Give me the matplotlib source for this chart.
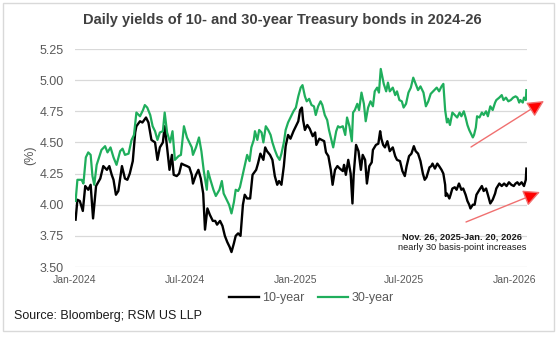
import matplotlib
matplotlib.use('Agg')
import matplotlib.pyplot as plt
import matplotlib.dates as mdates
from matplotlib.patches import Rectangle
import pandas as pd

plt.rcParams['font.family'] = ['Liberation Sans', 'DejaVu Sans']

# days since 2024-01-01
ten_days = [1, 4, 8, 13, 17, 22, 26, 30, 35, 42,
            47, 53, 57, 61, 64, 68, 72, 78, 83, 87,
            91, 96, 100, 102, 108, 112, 118, 122, 127, 133,
            137, 141, 146, 149, 153, 157, 161, 164, 169, 173,
            177, 181, 186, 190, 194, 196, 201, 205, 209, 213,
            216, 220, 224, 229, 233, 236, 241, 245, 249, 253,
            257, 260, 264, 267, 271, 275, 279, 282, 286, 291,
            295, 301, 304, 308, 313, 316, 319, 324, 328, 332,
            336, 339, 343, 347, 350, 354, 358, 363, 367, 371,
            374, 377, 379, 382, 386, 390, 395, 399, 401, 406,
            410, 414, 417, 421, 425, 428, 432, 436, 440, 445,
            447, 450, 454, 458, 461, 463, 467, 471, 475, 478,
            482, 485, 489, 493, 495, 500, 504, 507, 509, 512,
            515, 519, 523, 528, 532, 535, 540, 544, 548, 551,
            555, 559, 563, 566, 570, 574, 578, 581, 584, 589,
            592, 594, 598, 602, 605, 609, 612, 615, 616, 618,
            622, 624, 627, 631, 634, 638, 642, 645, 649, 652,
            655, 657, 661, 664, 667, 672, 676, 679, 683, 686,
            690, 694, 698, 700, 705, 709, 713, 717, 721, 725,
            729, 732, 735, 738, 742, 746, 749, 750]
ten_year = [3.88, 4.04, 4.03, 3.95, 4.15, 4.12, 4.16, 3.89, 4.15, 4.21,
            4.31, 4.28, 4.31, 4.24, 4.20, 4.08, 4.11, 4.31, 4.21, 4.20,
            4.25, 4.35, 4.58, 4.63, 4.67, 4.66, 4.70, 4.66, 4.52, 4.50,
            4.36, 4.46, 4.50, 4.63, 4.46, 4.28, 4.40, 4.24, 4.23, 4.25,
            4.33, 4.32, 4.31, 4.30, 4.24, 4.17, 4.24, 4.28, 4.21, 4.09,
            3.80, 3.97, 3.92, 3.87, 3.87, 3.84, 3.87, 3.83, 3.75, 3.70,
            3.66, 3.62, 3.69, 3.75, 3.77, 3.75, 4.00, 4.08, 4.05, 4.05,
            4.24, 4.28, 4.33, 4.41, 4.36, 4.46, 4.43, 4.40, 4.36, 4.23,
            4.16, 4.19, 4.16, 4.31, 4.47, 4.56, 4.53, 4.59, 4.63, 4.67,
            4.76, 4.78, 4.68, 4.60, 4.64, 4.61, 4.55, 4.58, 4.48, 4.53,
            4.52, 4.51, 4.42, 4.39, 4.28, 4.16, 4.28, 4.31, 4.29, 4.27,
            4.32, 4.24, 4.36, 4.25, 4.01, 4.24, 4.48, 4.43, 4.28, 4.40,
            4.36, 4.17, 4.31, 4.34, 4.44, 4.48, 4.49, 4.59, 4.53, 4.48,
            4.46, 4.51, 4.43, 4.46, 4.39, 4.36, 4.35, 4.27, 4.23, 4.31,
            4.39, 4.41, 4.47, 4.43, 4.41, 4.35, 4.25, 4.20, 4.22, 4.30,
            4.31, 4.33, 4.29, 4.33, 4.31, 4.28, 4.25, 4.16, 4.07, 4.09,
            4.05, 4.08, 4.13, 4.14, 4.12, 4.17, 4.12, 4.13, 4.08, 4.03,
            4.00, 3.97, 4.00, 4.00, 4.08, 4.12, 4.15, 4.11, 4.13, 4.08,
            4.01, 4.04, 4.09, 4.13, 4.17, 4.15, 4.17, 4.15, 4.18, 4.16,
            4.15, 4.17, 4.18, 4.16, 4.18, 4.15, 4.20, 4.29]

thirty_days = [1, 4, 11, 14, 18, 22, 26, 29, 32, 36,
               44, 50, 54, 59, 64, 69, 75, 79, 83, 89,
               94, 98, 102, 108, 113, 116, 120, 125, 129, 133,
               137, 141, 146, 149, 153, 158, 162, 166, 172, 176,
               181, 186, 190, 194, 196, 201, 206, 210, 214, 219,
               221, 225, 230, 234, 240, 244, 247, 252, 256, 260,
               264, 267, 271, 274, 279, 282, 286, 290, 293, 297,
               299, 303, 306, 310, 313, 317, 321, 325, 328, 332,
               336, 340, 343, 347, 350, 354, 358, 363, 367, 371,
               375, 378, 382, 385, 389, 393, 397, 400, 404, 408,
               411, 415, 419, 422, 426, 429, 434, 437, 440, 445,
               449, 452, 456, 460, 462, 465, 469, 472, 476, 480,
               483, 487, 491, 495, 498, 502, 505, 508, 511, 513,
               517, 520, 523, 528, 532, 535, 539, 543, 546, 550,
               554, 558, 562, 566, 570, 574, 579, 583, 587, 591,
               595, 601, 605, 609, 612, 615, 618, 620, 623, 627,
               631, 635, 639, 642, 646, 649, 652, 655, 657, 661,
               663, 666, 668, 672, 676, 679, 683, 686, 690, 694,
               698, 700, 705, 709, 712, 716, 720, 724, 728, 732,
               735, 738, 740, 744, 746, 749, 750]
thirty_year = [4.03, 4.20, 4.20, 4.17, 4.38, 4.42, 4.40, 4.23, 4.16, 4.32,
               4.44, 4.47, 4.42, 4.46, 4.38, 4.32, 4.43, 4.45, 4.40, 4.41,
               4.52, 4.56, 4.74, 4.71, 4.76, 4.80, 4.78, 4.72, 4.63, 4.59,
               4.52, 4.58, 4.59, 4.74, 4.58, 4.50, 4.59, 4.36, 4.39, 4.40,
               4.63, 4.54, 4.50, 4.46, 4.40, 4.46, 4.54, 4.43, 4.27, 4.12,
               4.27, 4.20, 4.12, 4.07, 4.12, 4.19, 4.09, 4.04, 4.00, 3.93,
               4.02, 4.12, 4.11, 4.14, 4.25, 4.32, 4.40, 4.35, 4.46, 4.52,
               4.59, 4.52, 4.60, 4.58, 4.50, 4.63, 4.60, 4.56, 4.50, 4.44,
               4.39, 4.36, 4.41, 4.50, 4.60, 4.66, 4.70, 4.75, 4.78, 4.87,
               4.94, 4.96, 4.87, 4.83, 4.85, 4.80, 4.79, 4.72, 4.79, 4.83,
               4.80, 4.72, 4.68, 4.60, 4.52, 4.46, 4.59, 4.63, 4.62, 4.63,
               4.56, 4.70, 4.63, 4.51, 4.74, 4.76, 4.81, 4.76, 4.90, 4.81,
               4.67, 4.78, 4.83, 4.79, 4.91, 4.94, 4.90, 5.09, 5.02, 4.97,
               4.91, 4.98, 4.91, 4.94, 4.88, 4.91, 4.84, 4.83, 4.78, 4.81,
               4.90, 4.94, 5.02, 4.97, 4.92, 4.95, 4.90, 4.79, 4.83, 4.89,
               4.91, 4.94, 4.91, 4.95, 4.97, 4.76, 4.66, 4.69, 4.64, 4.74,
               4.72, 4.70, 4.74, 4.71, 4.75, 4.70, 4.64, 4.60, 4.58, 4.54,
               4.56, 4.62, 4.71, 4.70, 4.74, 4.72, 4.75, 4.71, 4.79, 4.76,
               4.82, 4.84, 4.86, 4.88, 4.84, 4.86, 4.83, 4.84, 4.86, 4.87,
               4.86, 4.82, 4.84, 4.82, 4.86, 4.84, 4.92]

start = pd.Timestamp('2024-01-01')
ten_dates = start + pd.to_timedelta(ten_days, unit='D')
thirty_dates = start + pd.to_timedelta(thirty_days, unit='D')

tick_dates = pd.to_datetime(['2024-01-01', '2024-07-01', '2025-01-01',
                             '2025-07-01', '2026-01-01'])
yticks = [3.50, 3.75, 4.00, 4.25, 4.50, 4.75, 5.00, 5.25]

black = '#000000'
green = '#1fae5c'
gray = '#595959'
grid = '#d9d9d9'

fig = plt.figure(figsize=(5.6, 3.37), dpi=100)
ax = fig.add_axes([75 / 560, 1 - 267 / 337, 452 / 560, 218 / 337])

ax.plot(ten_dates, ten_year, color=black, lw=1.7, label='10-year')
ax.plot(thirty_dates, thirty_year, color=green, lw=1.6, label='30-year')

ax.set_xlim(start, start + pd.Timedelta(days=751))
ax.set_ylim(3.5, 5.25)
ax.set_yticks(yticks)
ax.set_yticklabels(['%.2f' % v for v in yticks])
ax.set_xticks(tick_dates)
ax.xaxis.set_major_formatter(mdates.DateFormatter('%b-%Y'))

ax.grid(axis='y', color=grid, lw=0.9)
ax.set_axisbelow(True)
for s in ax.spines.values():
    s.set_visible(False)
ax.tick_params(axis='both', length=0, colors=gray)
ax.tick_params(axis='y', labelsize=9, pad=8)
ax.tick_params(axis='x', labelsize=7.5, pad=6)

fig.text(0.054, 0.54, '(%)', rotation=90, ha='center', va='center',
         fontsize=9, color=gray)
fig.text(0.504, 0.94, 'Daily yields of 10- and 30-year Treasury bonds in 2024-26',
         ha='center', va='center', fontsize=10.5, fontweight='bold', color='#404040')

fig.legend(loc='center', bbox_to_anchor=(311 / 560, 1 - 298 / 337), ncol=2,
           frameon=False, fontsize=9, handlelength=2.4, handletextpad=0.25,
           columnspacing=1.1, labelcolor=gray)

fig.text(14 / 560, 1 - 316 / 337, 'Source: Bloomberg; RSM US LLP',
         ha='left', va='center', fontsize=9, color='#1a1a1a')

fig.text(462.5 / 560, 1 - 237 / 337, 'Nov. 26, 2025-Jan. 20, 2026',
         ha='center', va='center', fontsize=6.7, fontweight='bold', color='#1a1a1a')
fig.text(462.5 / 560, 1 - 247 / 337, 'nearly 30 basis-point increases',
         ha='center', va='center', fontsize=6.7, color='#1a1a1a')

# red trend arrows
for tail, head in [((471, 190), (544, 236)), ((466, 115), (540, 145))]:
    ax.annotate('', xy=head, xytext=tail, xycoords='figure pixels',
                textcoords='figure pixels', annotation_clip=False,
                arrowprops=dict(arrowstyle='-|>,head_length=1.0,head_width=0.5',
                                ec='#f07070', fc='#ff0000', lw=1, shrinkA=0, shrinkB=0))

fig.patches.append(Rectangle((3 / 560, 1 - 331 / 337), 551 / 560, 328 / 337,
                             transform=fig.transFigure, fill=False,
                             ec=grid, lw=1))

plt.savefig('out.png', dpi=100)
